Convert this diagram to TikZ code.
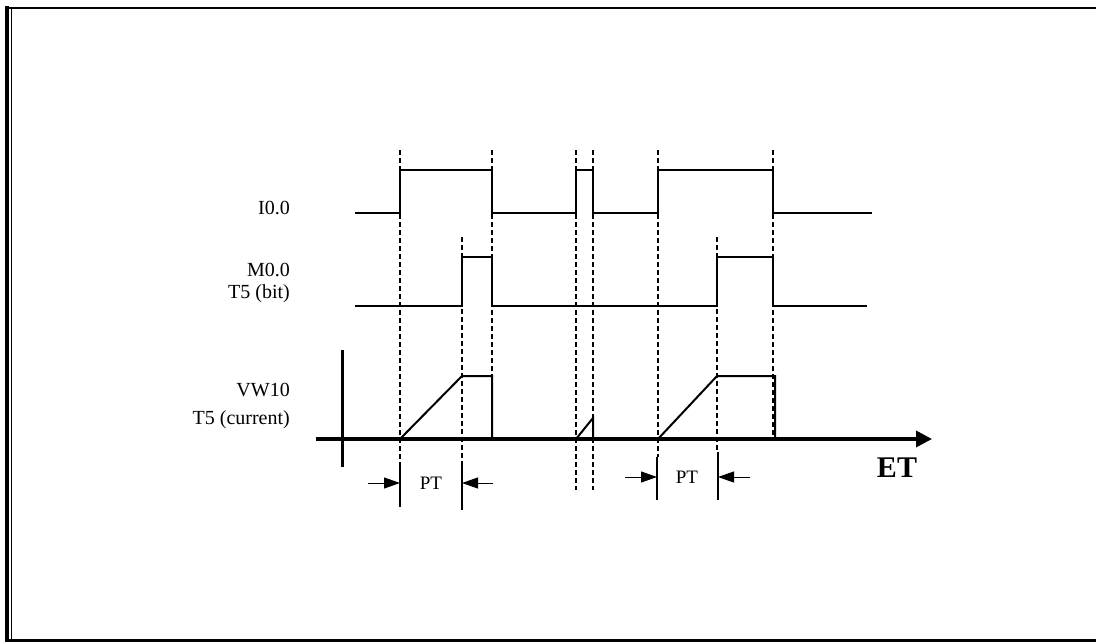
\documentclass[tikz,border=0pt]{standalone}
\usepackage{fontspec}
\setmainfont{Liberation Serif}
\usetikzlibrary{arrows.meta, positioning, calc}

\begin{document}
\begin{tikzpicture}[x=1pt, y=-1pt,
  sig/.style  ={line width=2pt, line join=miter},
  guide/.style={dash pattern=on 5pt off 3pt, line width=1.2pt},
  ptline/.style={line width=2pt},
  axis/.style ={line width=3.5pt},
  arr/.style  ={-{Triangle[length=16pt, width=11pt]}, line width=1pt},
  lbl/.style  ={anchor=east, inner sep=0pt, font=\fontsize{20}{22}\selectfont},
  pt/.style   ={inner sep=0pt, font=\fontsize{19}{21}\selectfont},
]
\useasboundingbox (0,0) rectangle (1096,642);

% frame
\draw[line width=2.5pt] (5,7.8) -- (1096,7.8);
\draw[line width=2.7pt] (5,640.6) -- (1096,640.6);
\draw[line width=4pt]   (7,6.5) -- (7,642);
\draw[line width=1.5pt] (11.5,7.8) -- (11.5,640.6);

% labels
\node[lbl] (i00)  at (290,208) {I0.0};
\node[lbl] (m00)  at (290,270) {M0.0};
\node[lbl] (t5b)  at (290,294) {T5 (bit)};
\node[lbl] (vw10) at (290,390) {VW10};
\node[lbl] (t5c)  at (290,420) {T5 (current)};

% guides
\foreach \x/\top/\bot in {400/150/462, 462/237/462, 492/150/440, 576/150/490,
                          593/150/490, 658/150/457, 717/237/452, 773/150/440}
  \draw[guide] (\x,\top) -- (\x,\bot);

% I0.0
\draw[sig] (355,213) -- (400,213) -- (400,170) -- (492,170) -- (492,213)
  -- (576,213) -- (576,170) -- (593,170) -- (593,213) -- (658,213)
  -- (658,170) -- (773,170) -- (773,213) -- (872,213);

% M0.0 / T5 bit
\draw[sig] (355,306) -- (462,306) -- (462,257) -- (492,257) -- (492,306)
  -- (717,306) -- (717,257) -- (773,257) -- (773,306) -- (867,306);

% VW10 / T5 current
\draw[sig] (400,439) -- (462,376) -- (492,376) -- (492,439);
\draw[sig] (576,439) -- (593,418) -- (593,439);
\draw[sig] (658,439) -- (717,376) -- (775,376) -- (775,439);

% axes
\coordinate (o)  at (316,439);
\coordinate (et) at (932,439);
\draw[axis, -{Triangle[length=16pt, width=16pt]}] (o) -- (et);
\draw[line width=3pt] (342,350) -- (342,467);
\node[inner sep=0pt, font=\bfseries\fontsize{30}{32}\selectfont] (etlbl) at (897,468) {ET};

% PT markers
\foreach \x/\top/\bot in {400/462/507, 462/462/510, 657/457/500, 718/452/500}
  \draw[ptline] (\x,\top) -- (\x,\bot);

\coordinate (pa1) at (368,483);
\coordinate (pb1) at (400,483);
\coordinate (pc1) at (493,483);
\coordinate (pd1) at (462,483);
\draw[arr] (pa1) -- (pb1);
\draw[arr] (pc1) -- (pd1);
\node[pt] (pt1) at (431,483) {PT};

\coordinate (pa2) at (625,477);
\coordinate (pb2) at (657,477);
\coordinate (pc2) at (750,477);
\coordinate (pd2) at (718,477);
\draw[arr] (pa2) -- (pb2);
\draw[arr] (pc2) -- (pd2);
\node[pt] (pt2) at (687,477) {PT};
\end{tikzpicture}
\end{document}
